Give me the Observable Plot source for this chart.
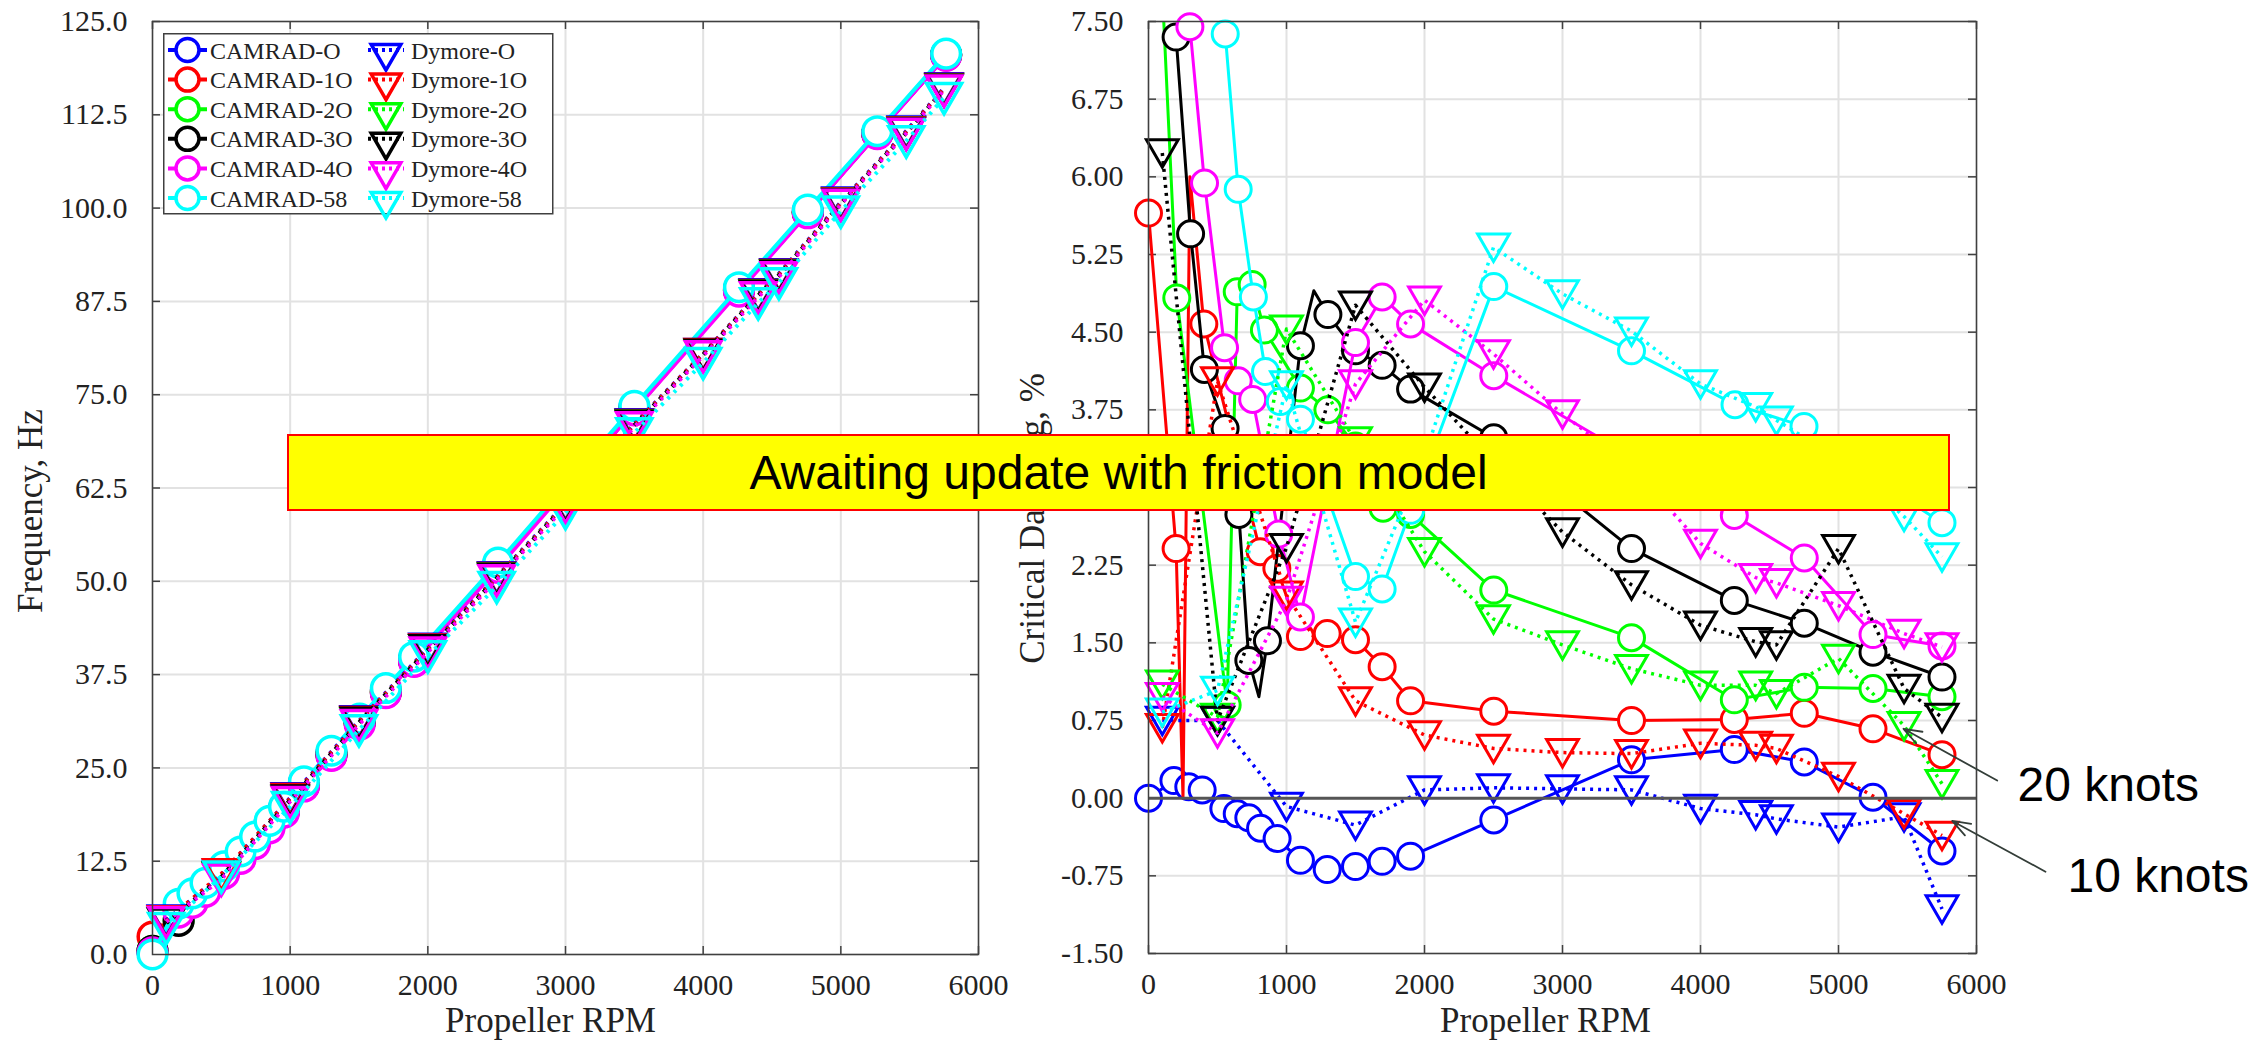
<!DOCTYPE html>
<html>
<head>
<meta charset="utf-8">
<script src="https://cdn.jsdelivr.net/npm/d3@7"></script>
<script src="https://cdn.jsdelivr.net/npm/@observablehq/plot@0.6"></script>
<style>
  html, body { margin: 0; padding: 0; background: #ffffff; }
  #wrap { position: relative; width: 2266px; height: 1045px; overflow: hidden; background: #fff; }
  #left { position: absolute; left: 0; top: 0; }
  #right { position: absolute; left: 1000px; top: 0; }
  #legend { position: absolute; left: 163px; top: 33px; }
  #banner { position: absolute; left: 287px; top: 434px; width: 1659px; height: 73px;
    background: #ffff00; border: 2px solid #ff0000; color: #000;
    font-family: "Liberation Sans", Arial, sans-serif; font-size: 48px;
    display: flex; align-items: center; justify-content: center; white-space: nowrap; }
</style>
</head>
<body>
<div id="wrap">
  <div id="left"></div>
  <div id="right"></div>
  <div id="legend"></div>
  <div id="banner">Awaiting update with friction model</div>
</div>
<script>
// ---------------- categories / ticks ----------------
const seriesKeys = ["O", "1O", "2O", "3O", "4O", "58"];
const seriesColors = ["#0000ff", "#ff0000", "#00ff00", "#000000", "#ff00ff", "#00ffff"];
const camradLabels = ["CAMRAD-O", "CAMRAD-1O", "CAMRAD-2O", "CAMRAD-3O", "CAMRAD-4O", "CAMRAD-58"];
const dymoreLabels = ["Dymore-O", "Dymore-1O", "Dymore-2O", "Dymore-3O", "Dymore-4O", "Dymore-58"];
const rpmTicks = [0, 1000, 2000, 3000, 4000, 5000, 6000];
const freqTicks = [0, 12.5, 25, 37.5, 50, 62.5, 75, 87.5, 100, 112.5, 125];
const dampTicks = [-1.5, -0.75, 0, 0.75, 1.5, 2.25, 3, 3.75, 4.5, 5.25, 6, 6.75, 7.5];

// ---------------- left panel: frequency, Hz ----------------
const camradFreqRpm = [0, 190, 290, 385, 520, 640, 745, 850, 955, 1100, 1300, 1505, 1695, 1900, 2510, 3500, 4260, 4760, 5265, 5765];
const camradO_freq  = [0.4, 6.3, 7.8, 9.2, 11.5, 13.5, 15.5, 17.6, 19.6, 23.0, 27.0, 31.3, 35.4, 39.6, 52.2, 73.3, 89.2, 99.6, 110.1, 120.6];
const camrad1O_freq = [2.4, 6.0, 7.6, 9.0, 11.3, 13.3, 15.3, 17.4, 19.4, 22.8, 26.8, 31.1, 35.2, 39.4, 52.0, 73.0, 89.0, 99.4, 110.0, 120.5];
const camrad2O_freq = [0.5, 4.6, 7.2, 8.8, 11.2, 13.2, 15.2, 17.3, 19.3, 22.7, 26.8, 31.0, 35.2, 39.4, 52.0, 73.0, 89.0, 99.4, 110.0, 120.5];
const camrad3O_freq = [0.5, 4.5, 7.0, 8.7, 11.1, 13.1, 15.1, 17.2, 19.2, 22.6, 26.7, 31.0, 35.1, 39.3, 52.0, 73.0, 89.0, 99.4, 110.0, 120.5];
const camrad4O_freq = [0.3, 5.6, 6.9, 8.4, 10.8, 12.8, 14.8, 16.9, 19.0, 22.5, 26.6, 30.8, 35.0, 39.2, 51.8, 72.9, 88.8, 99.3, 109.9, 120.4];
const camrad58_freq = [0.0, 6.8, 8.2, 9.6, 11.8, 13.8, 15.8, 17.9, 19.8, 23.2, 27.3, 31.6, 35.7, 39.9, 52.5, 73.5, 89.4, 99.8, 110.3, 120.7];

const dymoreRpm = [100, 500, 1000, 1500, 2000, 2500, 3000, 3500, 4000, 4400, 4550, 5000, 5475, 5750];
const dymoreO_freq  = [4.6, 10.6, 21.0, 31.3, 41.0, 50.6, 60.4, 71.1, 80.5, 88.5, 91.2, 100.8, 110.3, 116.1];
const dymore1O_freq = [4.5, 10.8, 20.9, 31.2, 40.9, 50.5, 60.3, 71.0, 80.5, 88.4, 91.1, 100.7, 110.2, 116.0];
const dymore2O_freq = [4.3, 10.3, 20.6, 31.0, 40.8, 50.4, 60.2, 70.9, 80.3, 88.3, 91.0, 100.6, 110.1, 115.9];
const dymore3O_freq = [4.2, 10.4, 20.7, 31.1, 40.8, 50.4, 60.2, 70.9, 80.4, 88.3, 91.0, 100.6, 110.1, 115.9];
const dymore4O_freq = [4.4, 10.1, 20.5, 30.8, 40.5, 50.2, 60.0, 70.7, 80.2, 88.1, 90.8, 100.5, 110.0, 115.8];
const dymore58_freq = [3.6, 10.5, 19.8, 30.1, 40.0, 49.3, 59.2, 69.9, 79.3, 87.3, 90.0, 99.6, 109.0, 114.8];

// ---------------- right panel: critical damping, % ----------------
// [rpm, damping, marker?]  (third value 0 = line vertex drawn without a symbol)
const camradO_damp = [[0,0.0],[184,0.17],[292,0.11],[389,0.08],[546,-0.10],[643,-0.15],[727,-0.19],[812,-0.29],[932,-0.39],[1101,-0.60],[1295,-0.69],[1500,-0.66],[1693,-0.61],[1899,-0.56],[2502,-0.21],[3500,0.37],[4245,0.47],[4752,0.35],[5250,0.01],[5750,-0.51]];
const camrad1O_damp = [[0,5.65],[200,2.41],[250,0.0,0],[300,6.0,0],[401,4.58],[810,2.38],[930,2.22],[1101,1.56],[1295,1.59],[1500,1.53],[1693,1.27],[1899,0.94],[2502,0.84],[3500,0.75],[4245,0.76],[4752,0.82],[5250,0.67],[5750,0.42]];
const camrad2O_damp = [[100,7.8,0],[205,4.83],[570,0.90],[643,4.89],[751,4.96],[840,4.52],[1101,3.96],[1300,3.75],[1500,3.40],[1700,2.80],[1899,2.74],[2502,2.01],[3500,1.55],[4245,0.95],[4752,1.07],[5250,1.06],[5750,0.98]];
const camrad3O_damp = [[200,7.35],[305,5.45],[405,4.14],[555,3.57],[655,2.74],[727,1.33],[800,0.98,0],[862,1.52],[1101,4.37],[1198,4.90,0],[1300,4.67],[1500,4.32],[1693,4.18],[1899,3.95],[2502,3.48],[3500,2.41],[4245,1.91],[4752,1.69],[5250,1.41],[5750,1.17]];
const camrad4O_damp = [[300,7.45],[406,5.94],[551,4.35],[650,4.03],[755,3.85],[944,2.55],[1101,1.75],[1500,4.40],[1693,4.84],[1899,4.58],[2502,4.08],[3500,3.30],[4245,2.73],[4752,2.32],[5250,1.58],[5750,1.47]];
const camrad58_damp = [[556,7.38],[650,5.88],[760,4.84],[848,4.12],[955,3.83],[1101,3.66],[1500,2.14],[1693,2.02],[1899,2.78],[2502,4.94],[3500,4.32],[4250,3.80],[4750,3.59],[5250,3.09],[5750,2.66]];

const dymoreO_damp  = [0.75, 0.75, -0.08, -0.26, 0.08, 0.10, 0.09, 0.08, -0.10, -0.16, -0.20, -0.28, -0.18, -1.07];
const dymore1O_damp = [0.68, 4.03, 1.96, 0.94, 0.61, 0.48, 0.44, 0.43, 0.53, 0.51, 0.48, 0.21, -0.15, -0.36];
const dymore2O_damp = [1.10, 0.78, 4.53, 3.45, 2.38, 1.73, 1.48, 1.25, 1.09, 1.09, 1.01, 1.35, 0.70, 0.14];
const dymore3O_damp = [6.23, 0.75, 2.42, 4.76, 3.97, 3.25, 2.57, 2.06, 1.67, 1.51, 1.48, 2.41, 1.06, 0.78];
const dymore4O_damp = [0.98, 0.63, 1.91, 4.00, 4.81, 4.29, 3.71, 3.20, 2.46, 2.13, 2.08, 1.86, 1.59, 1.46];
const dymore58_damp = [0.83, 1.04, 3.99, 1.70, 3.30, 5.32, 4.87, 4.51, 4.00, 3.78, 3.65, 3.28, 2.72, 2.33];

const annotations = [
  {label: "20 knots", tx: 6297, ty: 0.12, x1: 6150, y1: 0.17, x2: 5471, y2: 0.67},
  {label: "10 knots", tx: 6659, ty: -0.76, x1: 6500, y1: -0.71, x2: 5824, y2: -0.22}
];

// ---------------- tables ----------------
const camradFreqSets = [camradO_freq, camrad1O_freq, camrad2O_freq, camrad3O_freq, camrad4O_freq, camrad58_freq];
const dymoreFreqSets = [dymoreO_freq, dymore1O_freq, dymore2O_freq, dymore3O_freq, dymore4O_freq, dymore58_freq];
const camradDampSets = [camradO_damp, camrad1O_damp, camrad2O_damp, camrad3O_damp, camrad4O_damp, camrad58_damp];
const dymoreDampSets = [dymoreO_damp, dymore1O_damp, dymore2O_damp, dymore3O_damp, dymore4O_damp, dymore58_damp];

const leftCamrad = camradFreqSets.map(vals => vals.map((v, j) => ({rpm: camradFreqRpm[j], v, m: true})));
const leftDymore = dymoreFreqSets.map(vals => vals.map((v, j) => ({rpm: dymoreRpm[j], v, m: true})));
const rightCamrad = camradDampSets.map(pairs => pairs.map(p => ({rpm: p[0], v: p[1], m: p[2] !== 0})));
const rightDymore = dymoreDampSets.map(vals => vals.map((v, j) => ({rpm: dymoreRpm[j], v, m: true})));

const serif = "'Liberation Serif', 'Times New Roman', serif";
const txtColor = "#222222";
const frameColor = "#404040";

function seriesMarks(camrad, dymore, st) {
  const marks = [];
  camrad.forEach((rows, i) => {
    marks.push(Plot.line(rows, {x: "rpm", y: "v", stroke: seriesColors[i], strokeWidth: st.lw, clip: true}));
    marks.push(Plot.dot(rows.filter(d => d.m), {x: "rpm", y: "v", symbol: "circle", r: st.rc,
      stroke: seriesColors[i], strokeWidth: st.mw, fill: "white"}));
  });
  dymore.forEach((rows, i) => {
    marks.push(Plot.line(rows, {x: "rpm", y: "v", stroke: seriesColors[i], strokeWidth: st.dw,
      strokeDasharray: st.dash, strokeLinecap: "butt", clip: true}));
    marks.push(Plot.dot(rows, {x: "rpm", y: "v", symbol: "triangle", rotate: 180, r: st.rt, dy: -4,
      stroke: seriesColors[i], strokeWidth: st.mw, fill: "none"}));
  });
  return marks;
}

function boxMarks(xTicks, yTicks, W, H, fmtY) {
  return [
    Plot.gridX(xTicks, {stroke: "#e2e2e2", strokeOpacity: 1, strokeWidth: 2}),
    Plot.gridY(yTicks, {stroke: "#e2e2e2", strokeOpacity: 1, strokeWidth: 2}),
    Plot.axisX(xTicks, {tickSize: 0, tickPadding: 19, tickFormat: d => String(d), label: null,
      fontSize: 30, fontFamily: serif, fill: txtColor}),
    Plot.axisY(yTicks, {tickSize: 0, tickPadding: 25, tickFormat: fmtY, label: null,
      fontSize: 30, fontFamily: serif, fill: txtColor}),
    Plot.tickY(yTicks, {y: d => d, stroke: frameColor, strokeWidth: 1.5, insetRight: W - 8}),
    Plot.tickY(yTicks, {y: d => d, stroke: frameColor, strokeWidth: 1.5, insetLeft: W - 8}),
    Plot.tickX(xTicks, {x: d => d, stroke: frameColor, strokeWidth: 1.5, insetTop: H - 8}),
    Plot.tickX(xTicks, {x: d => d, stroke: frameColor, strokeWidth: 1.5, insetBottom: H - 8})
  ];
}

function axisLabels(yLabel, ydx, ydy, xdx, xdy) {
  return [
    Plot.text([yLabel], {frameAnchor: "left", rotate: -90, dx: ydx, dy: ydy, textAnchor: "middle",
      lineAnchor: "middle", fontSize: 35, fontFamily: serif, fill: txtColor}),
    Plot.text(["Propeller RPM"], {frameAnchor: "bottom", dx: xdx, dy: xdy, textAnchor: "middle",
      lineAnchor: "middle", fontSize: 35, fontFamily: serif, fill: txtColor})
  ];
}

// ---------------- left plot ----------------
const L = {width: 1000, height: 1045, ml: 152, mr: 22, mt: 21, mb: 91};
const LW = L.width - L.ml - L.mr, LH = L.height - L.mt - L.mb;
const leftPlot = Plot.plot({
  width: L.width, height: L.height,
  marginLeft: L.ml, marginRight: L.mr, marginTop: L.mt, marginBottom: L.mb,
  style: {fontFamily: serif, fontSize: "30px", color: txtColor, background: "transparent", overflow: "visible"},
  x: {domain: [0, 6000], axis: null},
  y: {domain: [0, 125], axis: null},
  marks: [
    ...boxMarks(rpmTicks, freqTicks, LW, LH, d => d.toFixed(1)),
    ...seriesMarks(leftCamrad, leftDymore, {lw: 4, dw: 4, mw: 3.5, rc: 14.3, rt: 13, dash: "3,6"}),
    Plot.frame({stroke: frameColor, strokeWidth: 1.5}),
    ...axisLabels("Frequency, Hz", -122, 23, -15, 66)
  ]
});
document.getElementById("left").appendChild(leftPlot);

// ---------------- right plot ----------------
const R = {width: 1266, height: 1045, ml: 148, mr: 290, mt: 21, mb: 92};
const RW = R.width - R.ml - R.mr, RH = R.height - R.mt - R.mb;
const rightPlot = Plot.plot({
  width: R.width, height: R.height,
  marginLeft: R.ml, marginRight: R.mr, marginTop: R.mt, marginBottom: R.mb,
  style: {fontFamily: serif, fontSize: "30px", color: txtColor, background: "transparent", overflow: "visible"},
  x: {domain: [0, 6000], axis: null},
  y: {domain: [-1.5, 7.5], axis: null},
  marks: [
    ...boxMarks(rpmTicks, dampTicks, RW, RH, d => d.toFixed(2)),
    ...seriesMarks(rightCamrad, rightDymore, {lw: 3, dw: 3.5, mw: 3, rc: 13, rt: 11.8, dash: "3,5"}),
    Plot.ruleY([0], {stroke: "#555555", strokeWidth: 3}),
    Plot.frame({stroke: frameColor, strokeWidth: 1.5}),
    ...axisLabels("Critical Damping, %", -116, 31, -17, 67),
    Plot.arrow(annotations, {x1: "x1", y1: "y1", x2: "x2", y2: "y2", stroke: "#333d38", strokeWidth: 1.8,
      headLength: 16, headAngle: 40}),
    Plot.text(annotations, {x: "tx", y: "ty", text: "label", textAnchor: "start", lineAnchor: "middle",
      fontSize: 48, fontFamily: "Liberation Sans", fill: "#000000"})
  ]
});
document.getElementById("right").appendChild(rightPlot);

// ---------------- legend (inside left axes) ----------------
const lg = d3.select("#legend").append("svg").attr("width", 392).attr("height", 183)
  .style("overflow", "visible");
lg.append("rect").attr("x", 0.75).attr("y", 0.75).attr("width", 389).attr("height", 180)
  .attr("fill", "white").attr("stroke", frameColor).attr("stroke-width", 1.5);
const rowY = i => 17 + i * 29.6;
seriesColors.forEach((c, i) => {
  const y = rowY(i);
  lg.append("line").attr("x1", 5).attr("x2", 44).attr("y1", y).attr("y2", y)
    .attr("stroke", c).attr("stroke-width", 4);
  lg.append("circle").attr("cx", 24.5).attr("cy", y).attr("r", 11.5)
    .attr("fill", "white").attr("stroke", c).attr("stroke-width", 3.5);
  lg.append("text").attr("x", 47).attr("y", y + 8.5).text(camradLabels[i])
    .attr("font-family", serif).attr("font-size", 24).attr("fill", txtColor);
  lg.append("line").attr("x1", 205).attr("x2", 241).attr("y1", y).attr("y2", y)
    .attr("stroke", c).attr("stroke-width", 4).attr("stroke-dasharray", "3,4");
  lg.append("path").attr("d", d3.symbol(d3.symbolTriangle, Math.PI * 11 * 11)())
    .attr("transform", `translate(223,${y + 3}) rotate(180)`)
    .attr("fill", "none").attr("stroke", c).attr("stroke-width", 3.5);
  lg.append("text").attr("x", 248).attr("y", y + 8.5).text(dymoreLabels[i])
    .attr("font-family", serif).attr("font-size", 24).attr("fill", txtColor);
});
</script>
</body>
</html>
